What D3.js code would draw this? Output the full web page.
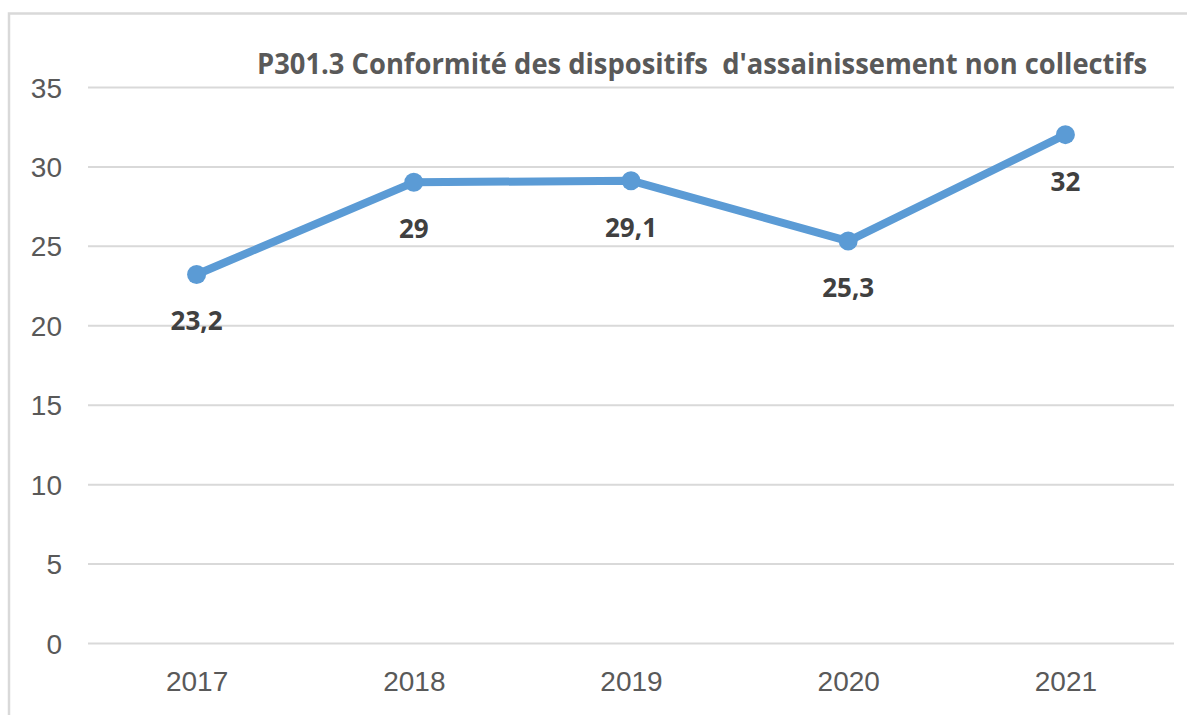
<!DOCTYPE html>
<html>
<head>
<meta charset="utf-8">
<script src="https://cdn.jsdelivr.net/npm/d3@7"></script>
<style>
  body { margin: 0; background: #fff; }
  svg { display: block; font-family: "Open Sans", "Noto Sans", sans-serif; }
</style>
</head>
<body>
<div id="chart"></div>
<script>
// values
var years = ['2017', '2018', '2019', '2020', '2021'];
var values = [23.2, 29, 29.1, 25.3, 32];
var yTicks = [0, 5, 10, 15, 20, 25, 30, 35];
var title = "P301.3 Conformité des dispositifs  d'assainissement non collectifs";

var W = 1187, H = 715;
var margin = {top: 87, right: 13, bottom: 72, left: 88},
    width = W - margin.left - margin.right,
    height = H - margin.top - margin.bottom;

var svg = d3.select('#chart')
  .append('svg')
    .attr('width', W)
    .attr('height', H);

// chart frame (only top and left edges show in the reference)
svg.append('path')
    .attr('d', 'M9,715 V13.5 H1187')
    .attr('fill', 'none')
    .attr('stroke', '#d9d9d9')
    .attr('stroke-width', 2.5);

var g = svg.append('g')
    .attr('transform', 'translate(' + margin.left + ',' + margin.top + ')');

var x = d3.scalePoint()
    .domain(years)
    .range([0, width])
    .padding(0.5);

var y = d3.scaleLinear()
    .domain([0, 35])
    .range([height, 0]);

// gridlines + y labels
var yAxis = g.append('g')
    .call(d3.axisLeft(y).tickValues(yTicks).tickSize(-width).tickPadding(26));
yAxis.select('.domain').remove();
yAxis.selectAll('line')
    .attr('stroke', '#d9d9d9')
    .attr('stroke-width', 2);
yAxis.selectAll('text')
    .attr('fill', '#595959')
    .attr('font-size', 28)
    .attr('dy', '0.36em');

// x labels
var xAxis = g.append('g')
    .attr('transform', 'translate(0,' + height + ')')
    .call(d3.axisBottom(x).tickSize(0).tickPadding(28));
xAxis.select('.domain').remove();
xAxis.selectAll('text')
    .attr('fill', '#595959')
    .attr('font-size', 28)
    .attr('dy', '0.71em');

// line
g.append('path')
    .datum(values)
    .attr('fill', 'none')
    .attr('stroke', '#5b9bd5')
    .attr('stroke-width', 8)
    .attr('stroke-linejoin', 'round')
    .attr('d', d3.line()
        .x(function(d, i) { return x(years[i]); })
        .y(function(d) { return y(d); })
    );

g.selectAll('circle.pt')
    .data(values)
    .enter().append('circle')
    .attr('class', 'pt')
    .attr('cx', function(d, i) { return x(years[i]); })
    .attr('cy', function(d) { return y(d); })
    .attr('r', 9.5)
    .attr('fill', '#5b9bd5');

// data labels below points
g.selectAll('text.lbl')
    .data(values)
    .enter().append('text')
    .attr('class', 'lbl')
    .attr('x', function(d, i) { return x(years[i]); })
    .attr('y', function(d) { return y(d) + 56; })
    .attr('text-anchor', 'middle')
    .attr('font-size', 26)
    .attr('font-weight', 'bold')
    .attr('fill', '#404040')
    .text(function(d) { return String(d).replace('.', ','); });

// title
svg.append('text')
    .attr('x', 257)
    .attr('y', 74)
    .attr('font-size', 28)
    .attr('font-weight', 'bold')
    .attr('fill', '#595959')
    .attr('textLength', 890)
    .attr('lengthAdjust', 'spacingAndGlyphs')
    .style('white-space', 'pre')
    .text(title);
</script>
</body>
</html>
